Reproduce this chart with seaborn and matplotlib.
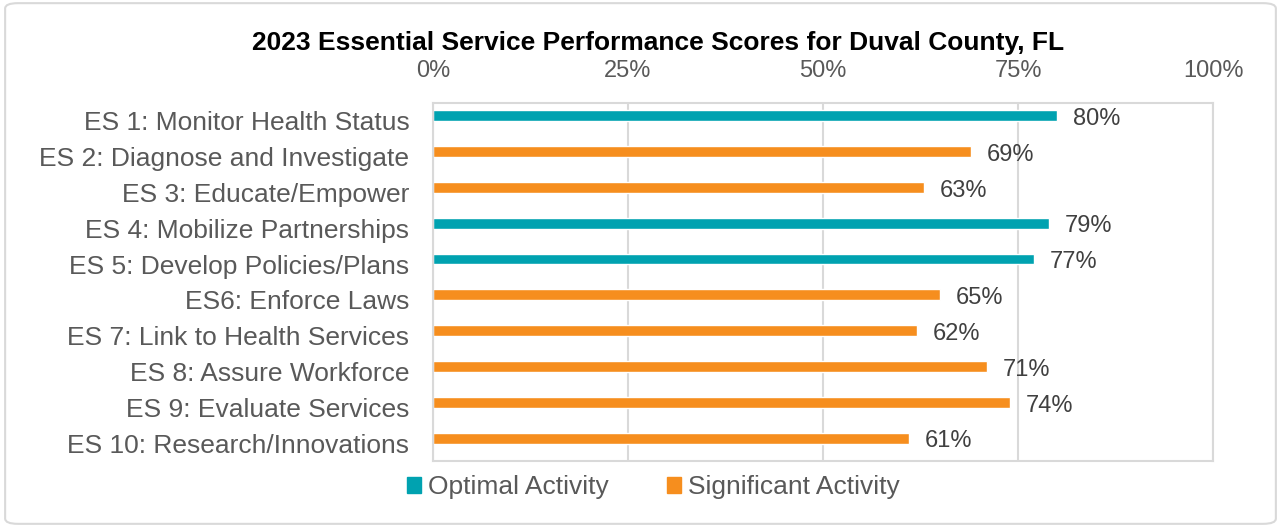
import pandas as pd
import seaborn as sns
import matplotlib.pyplot as plt
from matplotlib.patches import FancyBboxPatch, Patch
from matplotlib.ticker import PercentFormatter

# data
services = ['ES 1: Monitor Health Status', 'ES 2: Diagnose and Investigate',
            'ES 3: Educate/Empower', 'ES 4: Mobilize Partnerships',
            'ES 5: Develop Policies/Plans', 'ES6: Enforce Laws',
            'ES 7: Link to Health Services', 'ES 8: Assure Workforce',
            'ES 9: Evaluate Services', 'ES 10: Research/Innovations']
scores = [80, 69, 63, 79, 77, 65, 62, 71, 74, 61]
levels = ['Optimal Activity', 'Significant Activity', 'Significant Activity',
          'Optimal Activity', 'Optimal Activity', 'Significant Activity',
          'Significant Activity', 'Significant Activity', 'Significant Activity',
          'Significant Activity']

df = pd.DataFrame({'service': services, 'score': scores, 'level': levels})
palette = {'Optimal Activity': '#00A2B0', 'Significant Activity': '#F68E1E'}

sns.set_style('white')
plt.rcParams['font.family'] = ['Liberation Sans', 'DejaVu Sans']
text_gray = '#595959'
grid_gray = '#D9D9D9'

fig = plt.figure(figsize=(12.81, 5.27), dpi=100)
ax = fig.add_axes([0.338, 0.125, 0.609, 0.68])

sns.barplot(data=df, y='service', x='score', hue='level', palette=palette,
            dodge=False, width=0.3, orient='h', ax=ax, legend=False,
            saturation=1)

# excel puts the bars a little above the category centre
shift = 0.14
for p in ax.patches:
    p.set_y(p.get_y() - shift)

ax.set_xlim(0, 100)
ax.set_xticks([0, 25, 50, 75, 100])
ax.xaxis.set_major_formatter(PercentFormatter(decimals=0))
ax.xaxis.tick_top()
ax.tick_params(axis='x', length=0, labelsize=17, labelcolor=text_gray, pad=15)
ax.tick_params(axis='y', length=0, labelsize=19, labelcolor=text_gray, pad=17)
ax.set_xlabel('')
ax.set_ylabel('')
ax.grid(axis='x', color=grid_gray, linewidth=1.5)
ax.set_axisbelow(True)
for s in ax.spines.values():
    s.set_visible(True)
    s.set_color(grid_gray)
    s.set_linewidth(1.5)

# value labels
for i, v in enumerate(scores):
    ax.text(v + 2, i - 0.05, f'{v}%', va='center', ha='left', fontsize=17,
            color='#404040')

fig.suptitle('2023 Essential Service Performance Scores for Duval County, FL',
             fontsize=19, fontweight='bold', color='black', x=0.514, y=0.942)

handles = [Patch(color=palette[k]) for k in ['Optimal Activity', 'Significant Activity']]
fig.legend(handles, ['Optimal Activity', 'Significant Activity'], loc='center',
           bbox_to_anchor=(0.51, 0.075), ncol=2, frameon=False, fontsize=19,
           labelcolor=text_gray, handlelength=0.55, handleheight=0.55,
           handletextpad=0.25, columnspacing=2.2)

# outer border
fig.patches.append(FancyBboxPatch((0.004, 0.006), 0.992, 0.988,
                                  boxstyle='round,pad=0,rounding_size=0.01',
                                  transform=fig.transFigure, fill=False,
                                  edgecolor=grid_gray, linewidth=1.5))

fig.savefig('out.png', dpi=100)
